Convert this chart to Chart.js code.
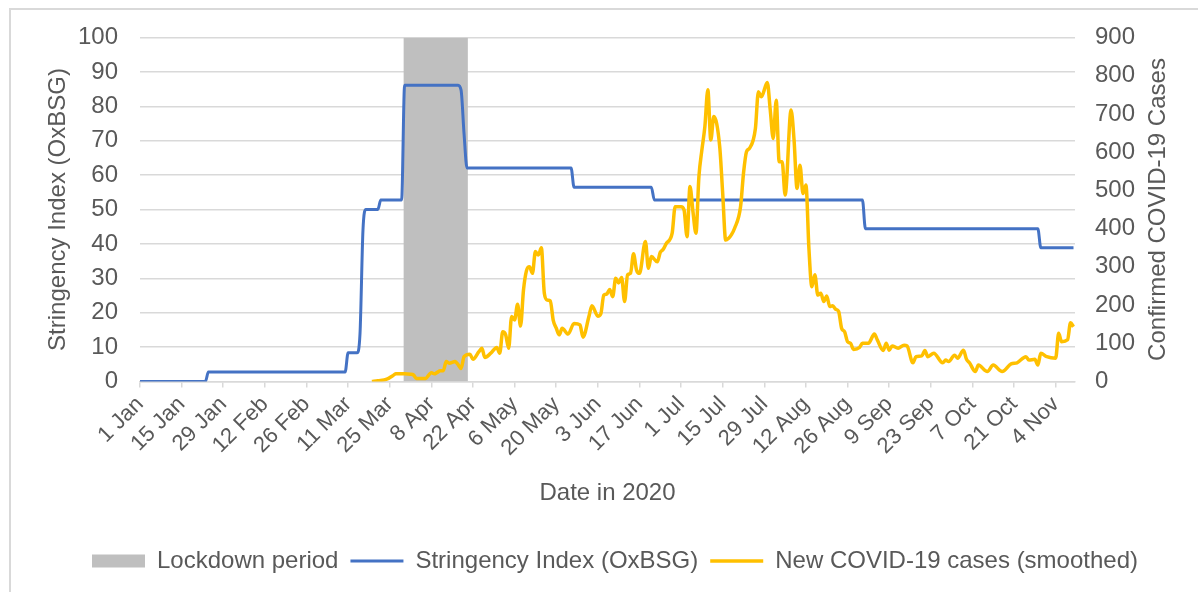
<!DOCTYPE html>
<html><head><meta charset="utf-8">
<script src="https://cdn.jsdelivr.net/npm/chart.js@4/dist/chart.umd.min.js"></script>
<style>html,body{margin:0;padding:0;background:#fff}canvas{display:block}</style>
</head><body>
<canvas id="c" width="1198" height="592"></canvas>
<script>
// ---- data ----
const tickDays = [0,14,28,42,56,70,84,98,112,126,140,154,168,182,196,210,224,238,252,266,280,294,308];
const tickLabels = ['1 Jan','15 Jan','29 Jan','12 Feb','26 Feb','11 Mar','25 Mar','8 Apr','22 Apr','6 May','20 May','3 Jun','17 Jun','1 Jul','15 Jul','29 Jul','12 Aug','26 Aug','9 Sep','23 Sep','7 Oct','21 Oct','4 Nov'];

const lockdownDays = [88.6, 110.3];
const lockdownLevel = [100, 100];

const stringencyDays   = [0, 22, 23,   69,   70,   73,   74,    75,  76, 80, 81,    88,    89,    107,   108,  109, 110,   145,   146,   172,   173,   243,   244,   302,   303,   314];
const stringencyValues = [0, 0,  2.78, 2.78, 8.33, 8.33, 13.89, 44,  50, 50, 52.78, 52.78, 86.11, 86.11, 84.7, 72,  62.04, 62.04, 56.48, 56.48, 52.78, 52.78, 44.44, 44.44, 38.89, 38.89];

const casesDays = [78,80,83,85,86,89,91,92,93,96,98,99,100,101,102,103,104,106,107,108,109,111,112,114,115,116,118,120,121,122,123,124,125,126,127,128,129,130,131,132,133,134,135,136,137,138,139,140,141,142,144,146,148,149,151,152,154,155,156,157,158,159,160,161,162,163,164,165,166,167,168,170,171,172,174,175,176,177,179,180,182,183,184,185,186,187,188,189,190,191,192,193,195,196,197,198,199,200,202,203,204,205,207,208,209,211,212,213,214,215,216,217,219,220,221,222,223,224,225,226,227,228,229,230,231,232,233,234,235,236,237,238,239,240,242,243,245,247,248,250,251,252,253,255,257,258,260,261,263,264,265,267,270,271,272,274,275,277,278,279,281,282,285,287,290,293,295,298,299,301,302,303,305,308,309,310,312,313,314];
const casesValues = [0,2,6,15,20,20,19,17,8,8,23,20,24,28,28,52,48,52,44,34,65,71,58,78,87,63,74,89,74,130,122,87,170,161,202,145,240,290,300,283,340,331,350,231,213,211,160,140,122,139,124,152,148,116,170,198,171,177,226,229,241,222,270,258,272,209,279,283,334,292,283,366,296,327,313,338,346,361,388,457,457,449,379,510,444,388,536,606,667,763,632,693,614,492,370,375,385,401,457,545,601,610,662,758,745,782,710,636,736,575,575,488,710,632,505,566,492,514,348,248,279,226,231,209,224,196,198,189,183,139,130,104,100,84,89,100,100,124,109,81,100,82,93,87,95,93,49,65,67,81,65,74,49,56,52,69,61,82,58,49,26,43,26,43,26,46,49,65,56,58,43,74,65,61,126,104,109,154,143];

const seriesNames = ['Lockdown period', 'Stringency Index (OxBSG)', 'New COVID-19 cases (smoothed)'];
const xTitle = 'Date in 2020';
const yLeftTitle = 'Stringency Index (OxBSG)';
const yRightTitle = 'Confirmed COVID-19 Cases';

// ---- styling ----
const FONT = "'Liberation Sans', Arial, sans-serif";
const TXT = '#595959';
const GRID = '#d9d9d9';
const BLUE = '#4472C4';
const GOLD = '#FFC000';
const GREY = '#BFBFBF';

const pairs = (xs, ys) => xs.map((x, i) => ({x: x, y: ys[i]}));

const framePlugin = {
  id: 'frame',
  beforeDraw(chart) {
    const ctx = chart.ctx;
    ctx.save();
    ctx.fillStyle = '#fff';
    ctx.fillRect(0, 0, chart.width, chart.height);
    ctx.strokeStyle = GRID;
    ctx.lineWidth = 2;
    ctx.beginPath();
    ctx.moveTo(10, chart.height + 5);
    ctx.lineTo(10, 9);
    ctx.lineTo(chart.width + 5, 9);
    ctx.stroke();
    ctx.restore();
  },
  afterLayout(chart) {
    if (chart.legend) { chart.legend.left += 16; chart.legend.right += 16; }
  },
  afterDraw(chart) {
    const s = chart.scales.yR;
    const ctx = chart.ctx;
    ctx.save();
    ctx.translate(s.right - 40, (s.top + s.bottom) / 2);
    ctx.rotate(-Math.PI / 2);
    ctx.font = '24px ' + FONT;
    ctx.fillStyle = TXT;
    ctx.textAlign = 'center';
    ctx.textBaseline = 'middle';
    ctx.fillText(yRightTitle, 0, 0);
    ctx.restore();
  }
};

new Chart(document.getElementById('c'), {
  type: 'line',
  data: {
    datasets: [
      {
        label: seriesNames[0],
        data: pairs(lockdownDays, lockdownLevel),
        yAxisID: 'yL',
        fill: 'origin',
        backgroundColor: GREY,
        borderColor: GREY,
        borderWidth: 0,
        pointRadius: 0,
        pointHoverRadius: 0,
        pointStyle: 'rect',
        pointBackgroundColor: GREY,
        pointBorderColor: GREY,
        pointBorderWidth: 0,
        order: 3
      },
      {
        label: seriesNames[1],
        data: pairs(stringencyDays, stringencyValues),
        yAxisID: 'yL',
        fill: false,
        borderColor: BLUE,
        backgroundColor: BLUE,
        borderWidth: 3,
        cubicInterpolationMode: 'monotone',
        pointRadius: 0,
        pointHoverRadius: 0,
        pointStyle: 'line',
        pointBorderColor: BLUE,
        pointBackgroundColor: BLUE,
        pointBorderWidth: 3,
        order: 2
      },
      {
        label: seriesNames[2],
        data: pairs(casesDays, casesValues),
        yAxisID: 'yR',
        fill: false,
        borderColor: GOLD,
        backgroundColor: GOLD,
        borderWidth: 3.5,
        cubicInterpolationMode: 'monotone',
        pointRadius: 0,
        pointHoverRadius: 0,
        pointStyle: 'line',
        pointBorderColor: GOLD,
        pointBackgroundColor: GOLD,
        pointBorderWidth: 3.5,
        order: 1
      }
    ]
  },
  options: {
    responsive: false,
    animation: false,
    events: [],
    layout: { padding: { top: 37.5, left: 0, right: 0, bottom: 9 } },
    plugins: {
      tooltip: { enabled: false },
      legend: {
        position: 'bottom',
        labels: {
          usePointStyle: true,
          pointStyleWidth: 53,
          boxHeight: 13,
          padding: 12,
          color: TXT,
          font: { family: FONT, size: 24 },
          sort: (a, b) => a.datasetIndex - b.datasetIndex
        }
      }
    },
    scales: {
      x: {
        type: 'linear',
        min: 0,
        max: 314.5,
        afterBuildTicks: (scale) => { scale.ticks = tickDays.map(v => ({ value: v })); },
        afterFit: (scale) => { scale.height = 155.5; },
        ticks: {
          autoSkip: false,
          minRotation: 45,
          maxRotation: 45,
          padding: 4,
          color: TXT,
          font: { family: FONT, size: 22 },
          callback: (value) => { const i = tickDays.indexOf(value); return i >= 0 ? tickLabels[i] : ''; }
        },
        grid: { display: true, drawOnChartArea: false, drawTicks: true, tickLength: 6, color: GRID, lineWidth: 1.5 },
        border: { display: true, color: GRID, width: 1.5 },
        title: { display: true, text: xTitle, color: TXT, font: { family: FONT, size: 24 }, padding: { top: 0, bottom: 29.6 } }
      },
      yL: {
        type: 'linear',
        position: 'left',
        min: 0,
        max: 100,
        afterFit: (scale) => { scale.width = 140; },
        ticks: { stepSize: 10, padding: 22, color: TXT, font: { family: FONT, size: 24 } },
        grid: { color: GRID, lineWidth: 1.5, drawTicks: false },
        border: { display: false },
        title: { display: true, text: yLeftTitle, color: TXT, font: { family: FONT, size: 24 }, padding: { top: 44, bottom: 0 } }
      },
      yR: {
        type: 'linear',
        position: 'right',
        min: 0,
        max: 900,
        afterFit: (scale) => { scale.width = 123; },
        ticks: { stepSize: 100, padding: 20, color: TXT, font: { family: FONT, size: 24 } },
        grid: { display: false, drawTicks: false },
        border: { display: false }
      }
    }
  },
  plugins: [framePlugin]
});
</script>
</body></html>
